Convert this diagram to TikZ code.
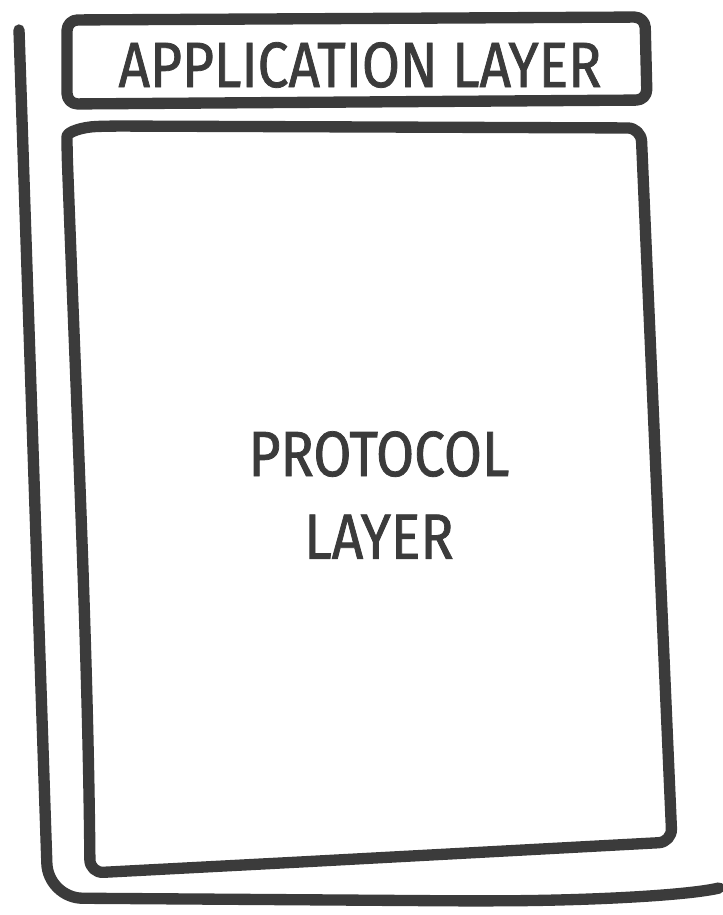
\documentclass[tikz,border=0pt]{standalone}
\usepackage{fontspec}
\usepackage{xcolor}
\newfontfamily\sketchfont[FakeStretch=0.86, FakeBold=1.2]{Fira Sans}
\definecolor{ink}{HTML}{3B3B3B}

\tikzset{
  sketch/.style={draw=ink, line width=8.5pt, line cap=round, line join=round},
  layertext/.style={text=ink, font=\sketchfont\fontsize{48}{62}\selectfont, align=center}
}

\begin{document}
\begin{tikzpicture}[x=0.75pt, y=-0.75pt]
      \useasboundingbox (0,0) rectangle (723,915);

      % Outer frame
      \draw[sketch, rounded corners=26pt] (19,30) -- (48,898) -- (480,901)
          .. controls (600,900) and (690,895) .. (719,888);

      % Application layer box
      \draw[sketch, rounded corners=8pt] (67,20) -- (645,17) -- (647,100) -- (67,104) -- cycle;

      % Protocol layer box
      \draw[sketch, rounded corners=10pt] (300,862) -- (672,842) -- (641,128) -- (110,126)
          .. controls (82,127) and (67,132) .. (67,150)
          .. controls (77,420) and (88,650) .. (90,873) -- (300,862);

      % Labels
      \node[layertext] (app) at (360,65) {APPLICATION LAYER};
      \node[layertext] (proto) at (379,495) {PROTOCOL\\LAYER};

\end{tikzpicture}
\end{document}
